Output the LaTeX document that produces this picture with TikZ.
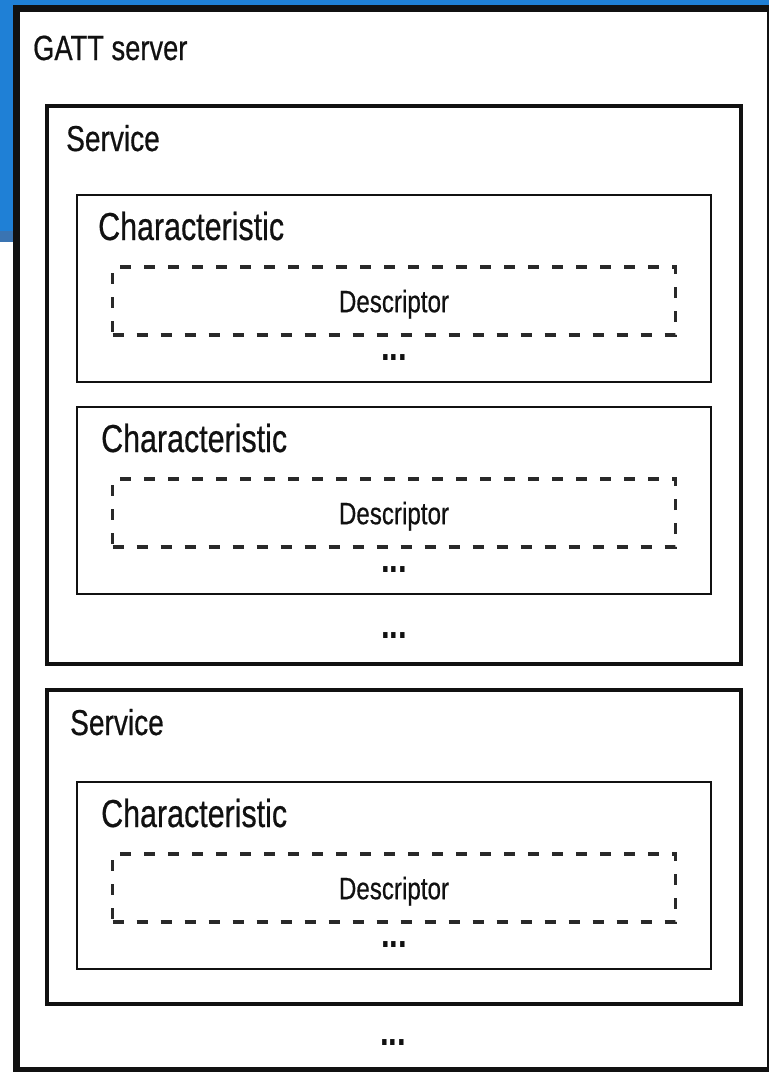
\documentclass[tikz,border=0pt]{standalone}
\usepackage{fontspec}
\setmainfont[FakeStretch=0.78,UprightFeatures={FakeBold=0.5}]{Liberation Sans}
\definecolor{frameblue}{HTML}{1F80D6}
\definecolor{bandblue}{HTML}{3A74B2}
\definecolor{ink}{HTML}{111111}

\begin{document}
\begin{tikzpicture}[x=1pt,y=-1pt,text=ink,
  font=\fontsize{36}{40}\selectfont,
  frame/.style={draw=ink,anchor=north west,inner sep=0pt,outer sep=0pt},
  title/.style={anchor=base west,inner sep=0pt},
  descbox/.style={draw=ink!90,dash pattern=on 11pt off 13pt,line width=3.5pt,
    minimum width=563pt,minimum height=68pt,inner sep=0pt,text depth=0pt,
    font=\fontsize{31}{34}\selectfont},
  more/.style={anchor=base,inner sep=0pt,
    font=\fontsize{40}{40}\selectfont\bfseries}]
  \useasboundingbox (0,0) rectangle (769,1072);

  % blue window edge behind the figure
  \fill[frameblue] (0,0) rectangle (769,5.5);
  \fill[frameblue] (0,0) rectangle (13,231);
  \fill[bandblue] (0,231) rectangle (13,242);

  % GATT server
  \node[frame,line width=7pt,minimum width=754.5pt,minimum height=1062pt]
    (server) at (16,8.5) {};
  \node[title,font=\fontsize{35}{40}\selectfont] (serverlab)
    at ([xshift=17pt,yshift=-51.5pt]server.north west) {GATT server};
  \node[more] (servermore) at ([yshift=25pt]server.south) {...};

  % first service
  \node[frame,line width=4pt,minimum width=694pt,minimum height=558pt]
    (svc1) at (47,106) {};
  \node[title] (svc1lab) at ([xshift=19pt,yshift=-45pt]svc1.north west) {Service};
  \node[more] (svc1more) at ([yshift=26pt]svc1.south) {...};

  % second service
  \node[frame,line width=4pt,minimum width=694pt,minimum height=314pt]
    (svc2) at (47,690) {};
  \node[title] (svc2lab) at ([xshift=23pt,yshift=-45pt]svc2.north west) {Service};

  % characteristics, one descriptor each
  \foreach \n/\y/\dx in {1/195/21,2/407/24,3/782/24}{
    \node[frame,line width=1.8pt,minimum width=634pt,minimum height=187pt]
      (char\n) at (77,\y) {};
    \node[title,font=\fontsize{39}{42}\selectfont] (clab\n)
      at ([xshift=\dx pt,yshift=-45pt]char\n.north west) {Characteristic};
    \node[descbox] (desc\n) at ([yshift=-106pt]char\n.north) {Descriptor};
    \node[more] (cmore\n) at ([yshift=22pt]char\n.south) {...};
  }
\end{tikzpicture}
\end{document}
